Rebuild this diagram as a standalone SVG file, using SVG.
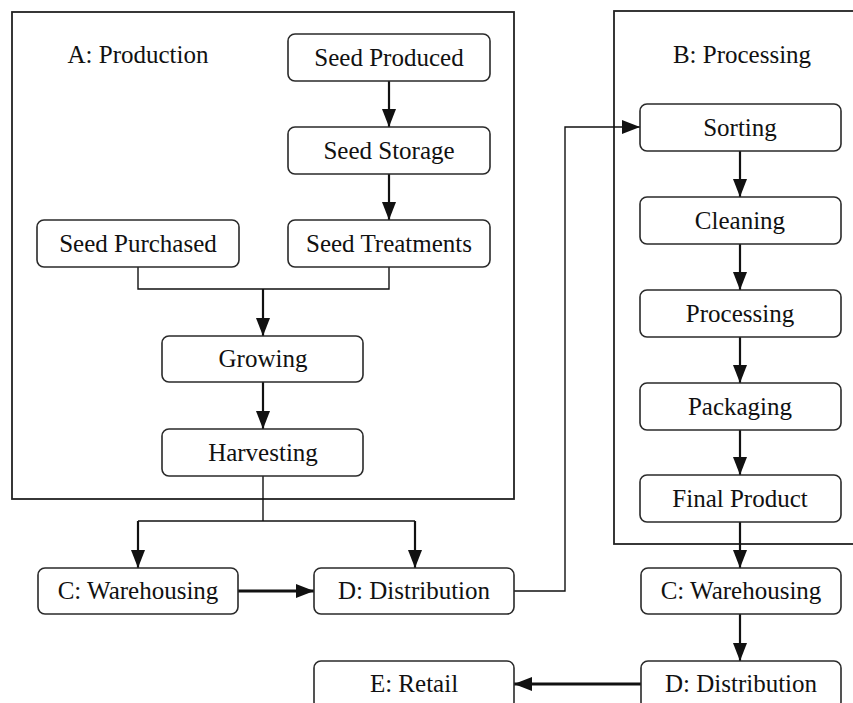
<svg xmlns="http://www.w3.org/2000/svg" width="853" height="703" viewBox="0 0 853 703">
  <style>
    .frame { fill: none; stroke: #222; stroke-width: 1.8; }
    .box rect { fill: #fff; stroke: #2a2a2a; stroke-width: 1.6; }
    .box text, .title { font-family: "Liberation Serif", "Times New Roman", serif; font-size: 25px; fill: #111; text-anchor: middle; }
    .conn { fill: none; stroke: #111; }
    .thin { stroke-width: 1.4; }
    .mid { stroke-width: 2.2; }
    .thick { stroke-width: 3.2; }
  </style>
  <defs>
    <marker id="arrow" markerUnits="userSpaceOnUse" markerWidth="18" markerHeight="14" refX="18" refY="7" orient="auto">
      <path d="M0,0 L18,7 L0,14 z" fill="#111"/>
    </marker>
  </defs>

  <rect width="853" height="703" fill="#fff"/>

  <!-- stage frames -->
  <g id="stageA">
    <rect class="frame" x="12" y="12" width="502" height="487"/>
    <text class="title" x="138" y="63">A: Production</text>
  </g>
  <g id="stageB">
    <rect class="frame" x="614" y="11" width="250" height="533"/>
    <text class="title" x="742" y="63">B: Processing</text>
  </g>

  <!-- connectors -->
  <g id="connectors">
    <line class="conn mid" x1="389" y1="81" x2="389" y2="127" marker-end="url(#arrow)"/>
    <line class="conn mid" x1="389" y1="174" x2="389" y2="220" marker-end="url(#arrow)"/>
    <polyline class="conn thin" points="138,267 138,289 389,289 389,267"/>
    <line class="conn mid" x1="263" y1="289" x2="263" y2="336" marker-end="url(#arrow)"/>
    <line class="conn mid" x1="263" y1="382" x2="263" y2="429" marker-end="url(#arrow)"/>

    <line class="conn thin" x1="263" y1="476" x2="263" y2="521"/>
    <line class="conn thin" x1="138" y1="521" x2="415" y2="521"/>
    <line class="conn mid" x1="138" y1="521" x2="138" y2="568" marker-end="url(#arrow)"/>
    <line class="conn mid" x1="415" y1="521" x2="415" y2="568" marker-end="url(#arrow)"/>
    <line class="conn thick" x1="238" y1="591" x2="314" y2="591" marker-end="url(#arrow)"/>
    <polyline class="conn thin" points="514,591 565,591 565,127 640,127" marker-end="url(#arrow)"/>

    <line class="conn mid" x1="740" y1="151" x2="740" y2="197" marker-end="url(#arrow)"/>
    <line class="conn mid" x1="740" y1="244" x2="740" y2="290" marker-end="url(#arrow)"/>
    <line class="conn mid" x1="740" y1="337" x2="740" y2="383" marker-end="url(#arrow)"/>
    <line class="conn mid" x1="740" y1="430" x2="740" y2="475" marker-end="url(#arrow)"/>
    <line class="conn mid" x1="740" y1="522" x2="740" y2="568" marker-end="url(#arrow)"/>
    <line class="conn mid" x1="740" y1="614" x2="740" y2="661" marker-end="url(#arrow)"/>
    <line class="conn thick" x1="641" y1="684" x2="514" y2="684" marker-end="url(#arrow)"/>
  </g>

  <!-- production nodes -->
  <g id="seedProduced" class="box">
    <rect x="288" y="34" width="202" height="47" rx="7"/>
    <text x="389" y="66">Seed Produced</text>
  </g>
  <g id="seedStorage" class="box">
    <rect x="288" y="127" width="202" height="47" rx="7"/>
    <text x="389" y="159">Seed Storage</text>
  </g>
  <g id="seedTreatments" class="box">
    <rect x="288" y="220" width="202" height="47" rx="7"/>
    <text x="389" y="252">Seed Treatments</text>
  </g>
  <g id="seedPurchased" class="box">
    <rect x="37" y="220" width="202" height="47" rx="7"/>
    <text x="138" y="252">Seed Purchased</text>
  </g>
  <g id="growing" class="box">
    <rect x="162" y="336" width="201" height="46" rx="7"/>
    <text x="263" y="367">Growing</text>
  </g>
  <g id="harvesting" class="box">
    <rect x="162" y="429" width="201" height="47" rx="7"/>
    <text x="263" y="461">Harvesting</text>
  </g>

  <!-- processing nodes -->
  <g id="sorting" class="box">
    <rect x="640" y="104" width="201" height="47" rx="7"/>
    <text x="740" y="136">Sorting</text>
  </g>
  <g id="cleaning" class="box">
    <rect x="640" y="197" width="201" height="47" rx="7"/>
    <text x="740" y="229">Cleaning</text>
  </g>
  <g id="processing" class="box">
    <rect x="640" y="290" width="201" height="47" rx="7"/>
    <text x="740" y="322">Processing</text>
  </g>
  <g id="packaging" class="box">
    <rect x="640" y="383" width="201" height="47" rx="7"/>
    <text x="740" y="415">Packaging</text>
  </g>
  <g id="finalProduct" class="box">
    <rect x="640" y="475" width="201" height="47" rx="7"/>
    <text x="740" y="507">Final Product</text>
  </g>

  <!-- downstream nodes -->
  <g id="warehousingLeft" class="box">
    <rect x="38" y="568" width="200" height="46" rx="7"/>
    <text x="138" y="599">C: Warehousing</text>
  </g>
  <g id="distributionLeft" class="box">
    <rect x="314" y="568" width="200" height="46" rx="7"/>
    <text x="414" y="599">D: Distribution</text>
  </g>
  <g id="warehousingRight" class="box">
    <rect x="641" y="568" width="200" height="46" rx="7"/>
    <text x="741" y="599">C: Warehousing</text>
  </g>
  <g id="distributionRight" class="box">
    <rect x="641" y="661" width="200" height="48" rx="7"/>
    <text x="741" y="692">D: Distribution</text>
  </g>
  <g id="retail" class="box">
    <rect x="314" y="661" width="200" height="48" rx="7"/>
    <text x="414" y="692">E: Retail</text>
  </g>
</svg>
